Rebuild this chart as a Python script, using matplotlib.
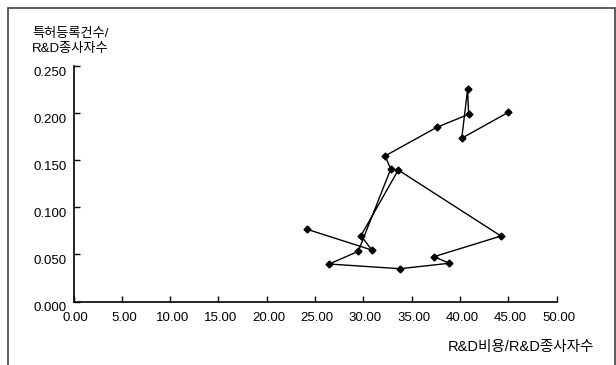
import matplotlib
matplotlib.use("Agg")
import matplotlib.pyplot as plt
import matplotlib.transforms as mtransforms
from matplotlib.patches import Rectangle

plt.rcParams['font.family'] = ['Liberation Sans', 'Noto Sans CJK KR', 'DejaVu Sans']

# R&D spending per R&D employee (x) vs patents per R&D employee (y), in path order
x_vals = [24.2, 30.87, 29.76, 33.62, 44.25, 37.32, 38.9, 33.8, 26.48, 29.48,
          32.84, 32.25, 37.6, 40.9, 40.8, 40.19, 45.0]
y_vals = [0.0766, 0.0547, 0.0699, 0.1396, 0.0695, 0.0476, 0.0406, 0.0348, 0.0398, 0.0533,
          0.1407, 0.1545, 0.1849, 0.1987, 0.2253, 0.1733, 0.2008]

x_ticks = [0, 5, 10, 15, 20, 25, 30, 35, 40, 45, 50]
y_ticks = [0.0, 0.05, 0.10, 0.15, 0.20, 0.25]

xlabel = "R&D비용/R&D종사자수"
ylabel = "특허등록건수/\nR&D종사자수"

fig = plt.figure(figsize=(6.16, 3.65), dpi=100)
ax = fig.add_axes([73.5 / 616, 1 - 301.5 / 365, (556.5 - 73.5) / 616, (301.5 - 66) / 365])

ax.plot(x_vals, y_vals, color='black', lw=1, marker='D', markersize=3.5,
        markerfacecolor='black', markeredgecolor='black')

ax.set_xlim(0, 50)
ax.set_ylim(0, 0.25)
ax.set_xticks(x_ticks)
ax.set_yticks(y_ticks)
ax.set_xticklabels([f"{v:.2f}" for v in x_ticks], fontsize=9.5)
ax.set_yticklabels([f"{v:.3f}" for v in y_ticks], fontsize=9.5)
ax.tick_params(direction='in', length=4, width=1, color='black')
ax.tick_params(axis='x', pad=7.5)
ax.tick_params(axis='y', pad=5)

# Excel-style: y tick labels sit slightly below their ticks, x labels a bit right
yoff = mtransforms.ScaledTranslation(0, -5 / 100, fig.dpi_scale_trans)
for lab in ax.get_yticklabels():
    lab.set_transform(lab.get_transform() + yoff)
xoff = mtransforms.ScaledTranslation(2 / 100, 0, fig.dpi_scale_trans)
for lab in ax.get_xticklabels():
    lab.set_transform(lab.get_transform() + xoff)

for s in ['top', 'right']:
    ax.spines[s].set_visible(False)
for s in ['left', 'bottom']:
    ax.spines[s].set_linewidth(1.2)
    ax.spines[s].set_color('black')

fig.text(32 / 616, 1 - 41.5 / 365, ylabel, fontsize=9.5, ha='left', va='center', linespacing=1.35)
fig.text(594 / 616, 1 - 347 / 365, xlabel, fontsize=10.5, ha='right', va='center')

# chart frame (bottom edge is cut off in the original)
fig.patches.append(Rectangle((8 / 616, -0.1), (615 - 8) / 616, 1.1 - 7.5 / 365,
                             transform=fig.transFigure, fill=False,
                             edgecolor='#404040', lw=1.2))

fig.savefig("out.png", dpi=100)
